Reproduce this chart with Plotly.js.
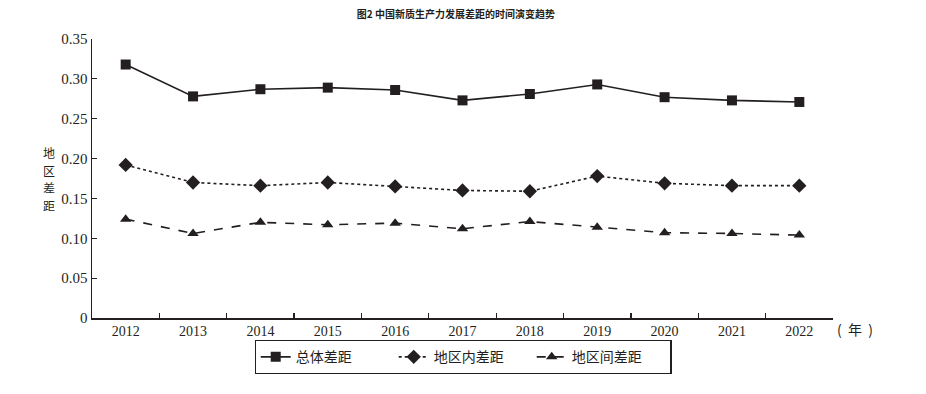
<!DOCTYPE html>
<html>
<head>
<meta charset="utf-8">
<script src="https://cdn.plot.ly/plotly-3.0.1.min.js"></script>
<style>html,body{margin:0;padding:0;background:#fff;}#chart{width:926px;height:394px;}</style>
</head>
<body>
<div id="chart"></div>
<script>
const years = ["2012","2013","2014","2015","2016","2017","2018","2019","2020","2021","2022"];
const totalGap = [0.318, 0.278, 0.287, 0.289, 0.286, 0.273, 0.281, 0.293, 0.277, 0.273, 0.271];
const withinGap = [0.192, 0.170, 0.166, 0.170, 0.165, 0.160, 0.159, 0.178, 0.169, 0.166, 0.166];
const betweenGap = [0.124, 0.106, 0.120, 0.117, 0.119, 0.112, 0.121, 0.114, 0.107, 0.106, 0.104];
const seriesNames = ["总体差距", "地区内差距", "地区间差距"];
const yTicks = [0, 0.05, 0.10, 0.15, 0.20, 0.25, 0.30, 0.35];
const yTickText = ["0", "0.05", "0.10", "0.15", "0.20", "0.25", "0.30", "0.35"];
const yLabelChars = ["地", "区", "差", "距"];

const ink = "#231f20";
const cjk = "Noto Sans CJK SC, Noto Sans, sans-serif";
const serif = "Liberation Serif, Times New Roman, serif";

const traces = [
  {x: years, y: totalGap, name: seriesNames[0], type: "scatter", mode: "lines+markers",
   line: {color: ink, width: 1.6, dash: "solid"},
   marker: {symbol: "square", size: 10, color: ink}},
  {x: years, y: withinGap, name: seriesNames[1], type: "scatter", mode: "lines+markers",
   line: {color: ink, width: 1.6, dash: "dot"},
   marker: {symbol: "diamond", size: 11, color: ink}},
  {x: years, y: betweenGap, name: seriesNames[2], type: "scatter", mode: "lines+markers",
   line: {color: ink, width: 1.6, dash: "dash"},
   marker: {symbol: "triangle-up", size: 10, color: ink}}
];

const annotations = yLabelChars.map((c, i) => ({
  text: c, xref: "paper", yref: "paper", x: -0.0587, y: 0.498, yshift: (1.5 - i) * 17.6,
  xanchor: "center", yanchor: "middle", showarrow: false,
  font: {family: cjk, size: 12, color: ink}
}));
annotations.push({text: "(  年  )", xref: "paper", yref: "paper", x: 1.003, y: -0.04, xanchor: "left", yanchor: "middle",
  showarrow: false, font: {family: cjk, size: 14, color: ink}});

const layout = {
  width: 926, height: 394,
  margin: {l: 92, r: 93, t: 39, b: 76},
  paper_bgcolor: "#fff", plot_bgcolor: "#fff",
  title: {text: "<b>图2 中国新质生产力发展差距的时间演变趋势</b>", font: {family: cjk, size: 10, color: ink},
          x: 0.491, xref: "paper", xanchor: "center", y: 0.962, yref: "container", yanchor: "middle"},
  showlegend: true,
  legend: {orientation: "h", x: 0.5007, xanchor: "center", y: -0.079, yanchor: "top",
           bordercolor: ink, borderwidth: 1.2, font: {family: cjk, size: 14, color: ink},
           entrywidth: 93, entrywidthmode: "pixels", itemwidth: 30, tracegroupgap: 0},
  xaxis: {type: "category", range: [-0.5, 10.5], tickson: "boundaries", ticks: "inside", ticklen: 5,
          tickwidth: 1.2, tickcolor: ink, showline: true, linecolor: ink, linewidth: 1.5,
          showgrid: false, zeroline: false, tickfont: {family: serif, size: 14, color: ink}, fixedrange: true},
  yaxis: {range: [0, 0.35], tickvals: yTicks, ticktext: yTickText, ticks: "inside", ticklen: 5,
          tickwidth: 1.2, tickcolor: ink, showline: true, linecolor: ink, linewidth: 1.5,
          showgrid: false, zeroline: false, tickfont: {family: serif, size: 15, color: ink}, fixedrange: true},
  annotations: annotations
};

Plotly.newPlot("chart", traces, layout, {displayModeBar: false, staticPlot: true});
</script>
</body>
</html>
